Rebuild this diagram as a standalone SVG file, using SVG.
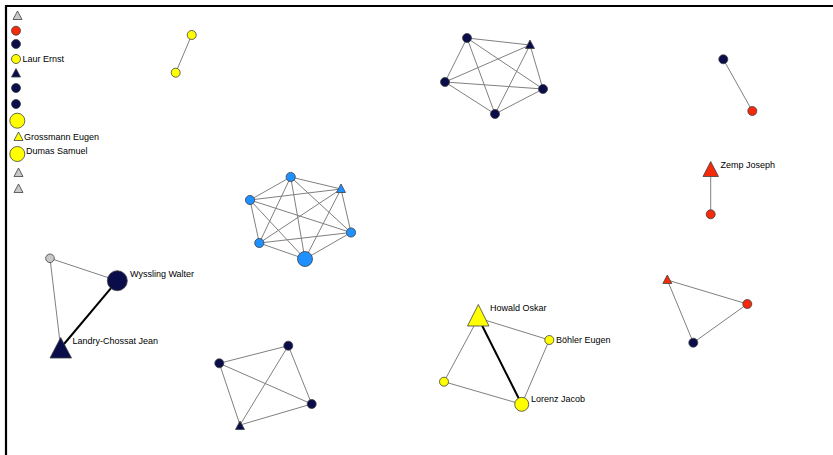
<svg xmlns="http://www.w3.org/2000/svg" width="833" height="455" viewBox="0 0 833 455">
<style>
.e{stroke:#808080;stroke-width:1;fill:none}
.t{stroke:#000;stroke-width:2;fill:none}
.n{stroke:#404040;stroke-width:0.8}
.nv{fill:#0a0d4a}
.rd{fill:#f52a0a}
.yl{fill:#ffff00}
.bl{fill:#1e90ff}
.gr{fill:#c8c8c8}
text{font-family:"Liberation Sans",Arial,sans-serif;font-size:9px;fill:#000}
</style>
<rect x="0" y="0" width="833" height="455" fill="#fff"/>
<path d="M6,455 V6 H833" stroke="#000" stroke-width="2.2" fill="none"/>
<g id="connectors">
<line class="e" x1="191.7" y1="35" x2="175.7" y2="72.7"/>
<!-- navy K5 -->
<line class="e" x1="467" y1="38" x2="530" y2="45"/>
<line class="e" x1="467" y1="38" x2="445" y2="82"/>
<line class="e" x1="467" y1="38" x2="543" y2="89"/>
<line class="e" x1="467" y1="38" x2="495" y2="114"/>
<line class="e" x1="530" y1="45" x2="445" y2="82"/>
<line class="e" x1="530" y1="45" x2="543" y2="89"/>
<line class="e" x1="530" y1="45" x2="495" y2="114"/>
<line class="e" x1="445" y1="82" x2="543" y2="89"/>
<line class="e" x1="445" y1="82" x2="495" y2="114"/>
<line class="e" x1="543" y1="89" x2="495" y2="114"/>
<!-- blue K6 -->
<line class="e" x1="290.7" y1="177" x2="341" y2="189"/>
<line class="e" x1="290.7" y1="177" x2="250" y2="200"/>
<line class="e" x1="290.7" y1="177" x2="351" y2="232.5"/>
<line class="e" x1="290.7" y1="177" x2="259.3" y2="243"/>
<line class="e" x1="290.7" y1="177" x2="305" y2="259"/>
<line class="e" x1="341" y1="189" x2="250" y2="200"/>
<line class="e" x1="341" y1="189" x2="351" y2="232.5"/>
<line class="e" x1="341" y1="189" x2="259.3" y2="243"/>
<line class="e" x1="341" y1="189" x2="305" y2="259"/>
<line class="e" x1="250" y1="200" x2="351" y2="232.5"/>
<line class="e" x1="250" y1="200" x2="259.3" y2="243"/>
<line class="e" x1="250" y1="200" x2="305" y2="259"/>
<line class="e" x1="351" y1="232.5" x2="259.3" y2="243"/>
<line class="e" x1="351" y1="232.5" x2="305" y2="259"/>
<line class="e" x1="259.3" y1="243" x2="305" y2="259"/>
<!-- right top pairs -->
<line class="e" x1="723.3" y1="59.3" x2="752.3" y2="111"/>
<line class="e" x1="710.7" y1="172" x2="710.7" y2="214.3"/>
<!-- Wyssling -->
<line class="e" x1="50" y1="258.3" x2="117.3" y2="280.7"/>
<line class="e" x1="50" y1="258.3" x2="60.7" y2="348"/>
<line class="t" x1="117.3" y1="280.7" x2="60.7" y2="348"/>
<!-- Howald -->
<line class="e" x1="478.3" y1="318" x2="549.3" y2="340"/>
<line class="e" x1="478.3" y1="318" x2="444" y2="381.7"/>
<line class="t" x1="478.3" y1="318" x2="521.7" y2="404.3"/>
<line class="e" x1="549.3" y1="340" x2="521.7" y2="404.3"/>
<line class="e" x1="444" y1="381.7" x2="521.7" y2="404.3"/>
<!-- red triangle cluster -->
<line class="e" x1="667.3" y1="280" x2="747.3" y2="304"/>
<line class="e" x1="667.3" y1="280" x2="693.3" y2="342.7"/>
<line class="e" x1="747.3" y1="304" x2="693.3" y2="342.7"/>
<!-- bottom navy K4 -->
<line class="e" x1="219.3" y1="363.3" x2="288.3" y2="345.7"/>
<line class="e" x1="219.3" y1="363.3" x2="311.7" y2="404"/>
<line class="e" x1="219.3" y1="363.3" x2="240" y2="425"/>
<line class="e" x1="288.3" y1="345.7" x2="311.7" y2="404"/>
<line class="e" x1="288.3" y1="345.7" x2="240" y2="425"/>
<line class="e" x1="311.7" y1="404" x2="240" y2="425"/>
</g>
<!-- isolated legend-like column -->
<g id="n1"><polygon class="n gr" points="17.5,11 22,19.5 13,19.5"/></g>
<g id="n2"><circle class="n rd" cx="16" cy="30.7" r="4.5"/></g>
<g id="n3"><circle class="n nv" cx="16" cy="44" r="4.5"/></g>
<g id="n4"><circle class="n yl" cx="16" cy="59" r="4.5"/><text x="22.5" y="61.5">Laur Ernst</text></g>
<g id="n5"><polygon class="n nv" points="16,68.5 20.5,77 11.5,77"/></g>
<g id="n6"><circle class="n nv" cx="16" cy="88" r="4.5"/></g>
<g id="n7"><circle class="n nv" cx="16" cy="104" r="4.5"/></g>
<g id="n8"><circle class="n yl" cx="17.3" cy="120.7" r="7.5"/></g>
<g id="n9"><polygon class="n yl" points="18.5,132 23,140.5 14,140.5"/><text x="24" y="139.5">Grossmann Eugen</text></g>
<g id="n10"><circle class="n yl" cx="17.3" cy="154" r="7.5"/><text x="26" y="153.5">Dumas Samuel</text></g>
<g id="n11"><polygon class="n gr" points="18.5,168 23,176.5 14,176.5"/></g>
<g id="n12"><polygon class="n gr" points="18.5,184 23,192.5 14,192.5"/></g>
<!-- yellow pair -->
<g id="n13"><circle class="n yl" cx="191.7" cy="35" r="4.5"/></g>
<g id="n14"><circle class="n yl" cx="175.7" cy="72.7" r="4.5"/></g>
<!-- navy K5 -->
<g id="n15"><circle class="n nv" cx="467" cy="38" r="4.5"/></g>
<g id="n16"><polygon class="n nv" points="530,40 534.5,48.5 525.5,48.5"/></g>
<g id="n17"><circle class="n nv" cx="445" cy="82" r="4.5"/></g>
<g id="n18"><circle class="n nv" cx="543" cy="89" r="4.5"/></g>
<g id="n19"><circle class="n nv" cx="495" cy="114" r="4.5"/></g>
<!-- blue K6 -->
<g id="n20"><circle class="n bl" cx="290.7" cy="177" r="4.6"/></g>
<g id="n21"><polygon class="n bl" points="341,184 345.5,192.5 336.5,192.5"/></g>
<g id="n22"><circle class="n bl" cx="250" cy="200" r="4.6"/></g>
<g id="n23"><circle class="n bl" cx="351" cy="232.5" r="4.6"/></g>
<g id="n24"><circle class="n bl" cx="259.3" cy="243" r="4.6"/></g>
<g id="n25"><circle class="n bl" cx="305" cy="259" r="7.5"/></g>
<!-- right top -->
<g id="n26"><circle class="n nv" cx="723.3" cy="59.3" r="4.5"/></g>
<g id="n27"><circle class="n rd" cx="752.3" cy="111" r="4.5"/></g>
<g id="n28"><polygon class="n rd" points="710.7,161.5 718.5,176.5 703,176.5"/><text x="720.5" y="167.5">Zemp Joseph</text></g>
<g id="n29"><circle class="n rd" cx="710.7" cy="214.3" r="4.5"/></g>
<!-- Wyssling cluster -->
<g id="n30"><circle class="n gr" cx="50" cy="258.3" r="4.3"/></g>
<g id="n31"><circle class="n nv" cx="117.3" cy="280.7" r="10"/><text x="130" y="276.5">Wyssling Walter</text></g>
<g id="n32"><polygon class="n nv" points="60.7,337.5 71.5,358 50,358"/><text x="72.5" y="344">Landry-Chossat Jean</text></g>
<!-- Howald cluster -->
<g id="n33"><polygon class="n yl" points="478.3,304.5 489,326 467.5,326"/><text x="490" y="311">Howald Oskar</text></g>
<g id="n34"><circle class="n yl" cx="549.3" cy="340" r="4.5"/><text x="556" y="343">Böhler Eugen</text></g>
<g id="n35"><circle class="n yl" cx="444" cy="381.7" r="4.5"/></g>
<g id="n36"><circle class="n yl" cx="521.7" cy="404.3" r="7"/><text x="531" y="402">Lorenz Jacob</text></g>
<!-- red triangle cluster -->
<g id="n37"><polygon class="n rd" points="667.3,275 671.8,283.5 662.8,283.5"/></g>
<g id="n38"><circle class="n rd" cx="747.3" cy="304" r="4.5"/></g>
<g id="n39"><circle class="n nv" cx="693.3" cy="342.7" r="4.5"/></g>
<!-- bottom navy K4 -->
<g id="n40"><circle class="n nv" cx="288.3" cy="345.7" r="4.5"/></g>
<g id="n41"><circle class="n nv" cx="219.3" cy="363.3" r="4.5"/></g>
<g id="n42"><circle class="n nv" cx="311.7" cy="404" r="4.5"/></g>
<g id="n43"><polygon class="n nv" points="240,421 244.5,429.5 235.5,429.5"/></g>
</svg>
